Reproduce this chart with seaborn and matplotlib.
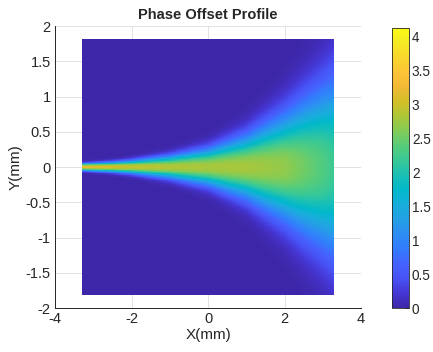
import numpy as np
import matplotlib
matplotlib.use("Agg")
import matplotlib.pyplot as plt
import seaborn as sns
from matplotlib.colors import LinearSegmentedColormap
from matplotlib.ticker import FormatStrFormatter

# Beam profile parameters along the propagation axis (mm)
x_stations = [-3.3, -2.5, -2.0, -1.0, 0.0, 1.0, 2.0, 3.0, 3.3]
peak_phase = [3.25, 3.05, 2.95, 2.85, 2.8, 2.8, 2.7, 2.35, 2.2]
beam_width = [0.035, 0.05, 0.065, 0.11, 0.18, 0.31, 0.52, 0.8, 0.9]

x_extent = [-3.3, 3.3]
y_extent = [-1.82, 1.82]

x_ticks = [-4, -2, 0, 2, 4]
y_ticks = [-2, -1.5, -1, -0.5, 0, 0.5, 1, 1.5, 2]
cbar_ticks = [0, 0.5, 1, 1.5, 2, 2.5, 3, 3.5, 4]
c_max = 4.13

# parula-style colormap
parula_rgb = [
    (0.2422, 0.1504, 0.6603), (0.2706, 0.2147, 0.8364), (0.2810, 0.3228, 0.9579),
    (0.2699, 0.3892, 0.9906), (0.1963, 0.4847, 0.9892), (0.1764, 0.5499, 0.9520),
    (0.1380, 0.6276, 0.8973), (0.0952, 0.6798, 0.8598), (0.0036, 0.7203, 0.7917),
    (0.0964, 0.7500, 0.7120), (0.2161, 0.7843, 0.5923), (0.3406, 0.8008, 0.4789),
    (0.5044, 0.7993, 0.3480), (0.6720, 0.7793, 0.2227), (0.8203, 0.7498, 0.1535),
    (0.9393, 0.7288, 0.2100), (0.9970, 0.7659, 0.2199), (0.9786, 0.8386, 0.1766),
    (0.9597, 0.9135, 0.1423), (0.9769, 0.9839, 0.0805),
]
parula = LinearSegmentedColormap.from_list("parula", parula_rgb, N=256)

# Phase field on the sampling grid (slightly flat-topped transverse profile)
nx, ny = 600, 400
xs = np.linspace(x_extent[0], x_extent[1], nx)
ys = np.linspace(y_extent[0], y_extent[1], ny)
X, Y = np.meshgrid(xs, ys)
amp = np.interp(X, x_stations, peak_phase)
wid = np.interp(X, x_stations, beam_width)
Z = amp * np.exp(-0.5 * np.abs(Y / wid) ** 2.3)

sns.set_theme(style="white")
plt.rcParams["font.family"] = ["Liberation Sans", "DejaVu Sans"]
plt.rcParams["axes.unicode_minus"] = False

fig = plt.figure(figsize=(4.33, 3.52), dpi=100)
ax = fig.add_axes([0.127, 0.125, 0.707, 0.801])
ax.set_xlim(-4, 4)
ax.set_ylim(-2, 2)
ax.set_xticks(x_ticks)
ax.set_yticks(y_ticks)
ax.yaxis.set_major_formatter(FormatStrFormatter("%g"))
ax.grid(True, color="#e2e2e2", lw=0.7)
ax.set_axisbelow(True)
for s in ["top", "right"]:
    ax.spines[s].set_visible(False)
for s in ["left", "bottom"]:
    ax.spines[s].set_color("#262626")
    ax.spines[s].set_linewidth(0.7)
ax.tick_params(direction="in", length=3, width=0.6, colors="#262626",
               labelsize=10.5, labelcolor="#262626", pad=3)
ax.set_xlabel("X(mm)", fontsize=11, color="#262626", labelpad=1)
ax.set_ylabel("Y(mm)", fontsize=11, color="#262626", labelpad=2)
ax.set_title("Phase Offset Profile", fontsize=10.5, fontweight="bold", pad=5)

inset = ax.inset_axes([x_extent[0], y_extent[0], x_extent[1] - x_extent[0],
                       y_extent[1] - y_extent[0]], transform=ax.transData)
cax = fig.add_axes([0.906, 0.125, 0.039, 0.795])
sns.heatmap(Z[::-1], ax=inset, cmap=parula, vmin=0, vmax=c_max, cbar_ax=cax,
            xticklabels=False, yticklabels=False, rasterized=True)
inset.axis("off")

cb = inset.collections[0].colorbar
cb.outline.set_linewidth(0.6)
cb.outline.set_edgecolor("#262626")
cb.set_ticks(cbar_ticks)
cax.yaxis.set_major_formatter(FormatStrFormatter("%g"))
cax.tick_params(direction="in", length=3, width=0.6, colors="#262626",
                labelsize=9.8, labelcolor="#262626", pad=2, right=True, left=False)

fig.savefig("out.png", dpi=100)
